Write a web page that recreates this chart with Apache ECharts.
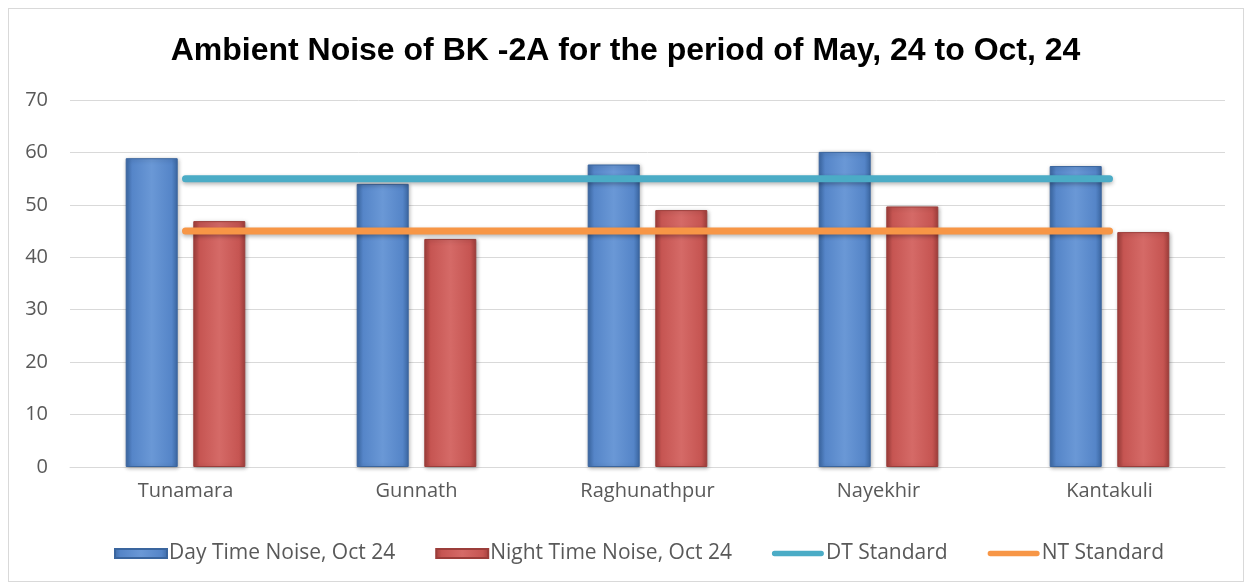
<!DOCTYPE html>
<html>
<head>
<meta charset="utf-8">
<script src="https://cdn.jsdelivr.net/npm/echarts@6/dist/echarts.min.js"></script>
<style>
  html, body { margin: 0; padding: 0; background: #fff; }
  #frame { position: absolute; left: 8px; top: 8px; width: 1234px; height: 572px; border: 1px solid #d9d9d9; }
  #chart { position: absolute; left: 0; top: 0; width: 1251px; height: 586px; }
</style>
</head>
<body>
<div id="frame"></div>
<div id="chart"></div>
<script>
const categories = ["Tunamara", "Gunnath", "Raghunathpur", "Nayekhir", "Kantakuli"];
const dayNoise = [58.9, 54.0, 57.7, 60.1, 57.4];
const nightNoise = [46.9, 43.5, 49.0, 49.7, 44.8];
const dtStandard = [55, 55, 55, 55, 55];
const ntStandard = [45, 45, 45, 45, 45];
const yTicks = [0, 10, 20, 30, 40, 50, 60, 70];

const chart = echarts.init(document.getElementById("chart"), null, { renderer: "canvas" });

function barGradient(edge, mid, light) {
  return new echarts.graphic.LinearGradient(0, 0, 1, 0, [
    { offset: 0, color: edge },
    { offset: 0.12, color: mid },
    { offset: 0.5, color: light },
    { offset: 0.88, color: mid },
    { offset: 1, color: edge },
  ]);
}

const labelFont = "'Open Sans', sans-serif";
const lineIcon = "path://M3,0 L55,0 A3,3 0 0 1 55,6 L3,6 A3,3 0 0 1 3,0 Z";

chart.setOption({
  animation: false,
  title: {
    text: "Ambient Noise of BK -2A for the period of May, 24 to Oct, 24",
    left: "center",
    top: 30,
    textStyle: { fontFamily: "'Liberation Sans', Arial, sans-serif", fontWeight: "bold", fontSize: 32, color: "#000" },
  },
  grid: { left: 70, right: 26, top: 100, bottom: 119 },
  legend: {
    bottom: 17,
    left: 109,
    itemGap: 40,
    itemWidth: 52,
    itemHeight: 9,
    textStyle: { fontFamily: labelFont, fontSize: 21, color: "#595959", padding: [0, 0, 0, -3] },
    data: [
      { name: "Day Time Noise, Oct 24", icon: "rect" },
      { name: "Night Time Noise, Oct 24", icon: "rect" },
      { name: "DT Standard", icon: lineIcon, itemHeight: 6 },
      { name: "NT Standard", icon: lineIcon, itemHeight: 6 },
    ],
  },
  xAxis: {
    type: "category",
    data: categories,
    axisLine: { lineStyle: { color: "#d9d9d9", width: 1 } },
    axisTick: { show: false },
    axisLabel: { fontFamily: labelFont, fontSize: 20, color: "#595959", margin: 14 },
  },
  yAxis: {
    type: "value",
    min: yTicks[0],
    max: yTicks[yTicks.length - 1],
    interval: 10,
    axisLine: { show: false },
    axisTick: { show: false },
    splitLine: { lineStyle: { color: "#d9d9d9", width: 1 } },
    axisLabel: { fontFamily: labelFont, fontSize: 20, color: "#595959", margin: 22 },
  },
  series: [
    {
      name: "Day Time Noise, Oct 24",
      type: "bar",
      data: dayNoise,
      barWidth: 52,
      barGap: "30%",
      itemStyle: {
        color: barGradient("#3d6aa6", "#5585c8", "#6a98d6"),
        borderColor: "#3a659e",
        borderWidth: 1,
        shadowColor: "rgba(0,0,0,0.3)",
        shadowBlur: 4,
        shadowOffsetX: 1,
        shadowOffsetY: 1,
      },
    },
    {
      name: "Night Time Noise, Oct 24",
      type: "bar",
      data: nightNoise,
      barWidth: 52,
      itemStyle: {
        color: barGradient("#a23f3c", "#c65552", "#d56a67"),
        borderColor: "#9b3d3a",
        borderWidth: 1,
        shadowColor: "rgba(0,0,0,0.3)",
        shadowBlur: 4,
        shadowOffsetX: 1,
        shadowOffsetY: 1,
      },
    },
    {
      name: "DT Standard",
      type: "line",
      data: dtStandard,
      showSymbol: false,
      symbol: "none",
      itemStyle: { color: "#4bacc6" },
      lineStyle: { color: "#4bacc6", width: 7, cap: "round", shadowColor: "rgba(0,0,0,0.3)", shadowBlur: 4, shadowOffsetY: 2 },
      z: 3,
    },
    {
      name: "NT Standard",
      type: "line",
      data: ntStandard,
      showSymbol: false,
      symbol: "none",
      itemStyle: { color: "#f79646" },
      lineStyle: { color: "#f79646", width: 7, cap: "round", shadowColor: "rgba(0,0,0,0.3)", shadowBlur: 4, shadowOffsetY: 2 },
      z: 3,
    },
  ],
});
</script>
</body>
</html>
